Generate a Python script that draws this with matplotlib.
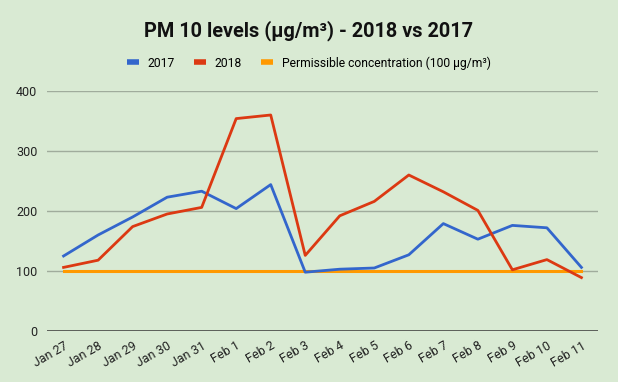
import matplotlib
matplotlib.use("Agg")
import matplotlib.pyplot as plt
from matplotlib.lines import Line2D

dates = ["Jan 27", "Jan 28", "Jan 29", "Jan 30", "Jan 31", "Feb 1", "Feb 2", "Feb 3",
         "Feb 4", "Feb 5", "Feb 6", "Feb 7", "Feb 8", "Feb 9", "Feb 10", "Feb 11"]
pm_2017 = [125, 160, 190, 223, 233, 204, 244, 98, 103, 105, 127, 179, 153, 176, 172, 106]
pm_2018 = [106, 118, 174, 195, 206, 354, 360, 126, 192, 216, 260, 232, 201, 102, 119, 89]
permissible = [100] * len(dates)
yticks = [0, 100, 200, 300, 400]
series_names = ["2017", "2018", "Permissible concentration (100 µg/m³)"]
colors = ["#3366cc", "#dc3912", "#ff9900"]

plt.rcParams['font.family'] = ['Roboto', 'DejaVu Sans']
bg = "#d9ead3"
fig = plt.figure(figsize=(6.18, 3.82), dpi=100, facecolor=bg)
ax = fig.add_axes([47/618, 1-331/382, (598-47)/618, (331-91)/382], facecolor=bg)

x = list(range(len(dates)))
ax.plot(x, pm_2017, color=colors[0], lw=2, zorder=3)
ax.plot(x, pm_2018, color=colors[1], lw=2, zorder=3)
ax.plot(x, permissible, color=colors[2], lw=2.2, zorder=2)

ax.set_xlim(-0.48, 15.48)
ax.set_ylim(0, 400)
ax.set_yticks(yticks)
ax.set_yticklabels([str(v) for v in yticks])
ax.set_xticks(x)
ax.set_xticklabels(dates, rotation=30, ha="right", rotation_mode="anchor")
ax.tick_params(axis="both", length=0, labelsize=9, colors="#222222")
ax.tick_params(axis="x", pad=6)
ax.tick_params(axis="y", pad=7)
for s in ax.spines.values():
    s.set_visible(False)
ax.grid(axis="y", color="#a0ac9c", lw=1, zorder=0)
ax.axhline(0, color="#333333", lw=1.2, zorder=1)

fig.text(0.5, 1-31/382, "PM 10 levels (µg/m³) - 2018 vs 2017", ha="center", va="center",
         fontsize=14.3, fontweight="bold", color="#111111")
handles = [Line2D([], [], color=c, lw=4, solid_capstyle="butt") for c in colors]
fig.legend(handles=handles, labels=series_names, loc="center",
           bbox_to_anchor=(309/618, 1-63/382), ncol=3,
           frameon=False, fontsize=8.7, handlelength=1.0, handletextpad=0.7,
           columnspacing=1.6)

fig.savefig("out.png", dpi=100, facecolor=bg)
